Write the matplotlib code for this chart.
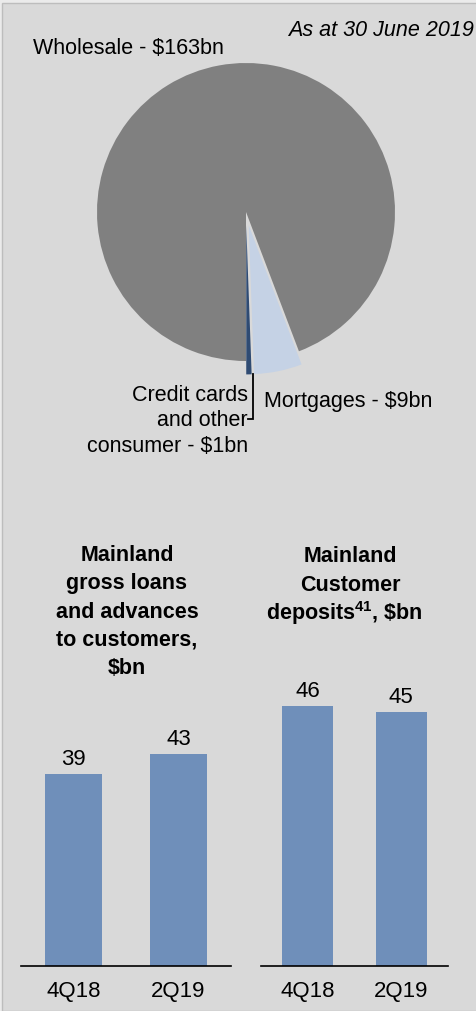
import matplotlib
matplotlib.use('Agg')
import matplotlib.pyplot as plt
from matplotlib.patches import Rectangle

plt.rcParams['font.family'] = ['Liberation Sans', 'DejaVu Sans']
plt.rcParams['mathtext.fontset'] = 'custom'
plt.rcParams['mathtext.rm'] = 'Liberation Sans'
plt.rcParams['mathtext.bf'] = 'Liberation Sans:bold'

# pie data ($bn, as at 30 June 2019)
pie_labels = ['Credit cards\nand other\nconsumer - $1bn', 'Mortgages - $9bn', 'Wholesale - $163bn']
pie_values = [1, 9, 163]
pie_colors = ['#2f4b73', '#c5d2e5', '#808080']
pie_explode = [0.09, 0.09, 0.0]

# bar data
quarters = ['4Q18', '2Q19']
loans = [39, 43]
deposits = [46, 45]
bar_color = '#6f8fba'

W, H = 477, 1011
BG = '#d9d9d9'
FS = 15.5


def fx(x):
    return x / W


def fy(y):
    return 1 - y / H


def box(x0, y0, x1, y1):
    # pixel box (top-left origin) -> figure fraction rect
    return [fx(x0), fy(y1), (x1 - x0) / W, (y1 - y0) / H]


fig = plt.figure(figsize=(W / 100, H / 100), dpi=100, facecolor='#ebebeb')
fig.patches.append(Rectangle((fx(2), 0), 1, fy(3), transform=fig.transFigure,
                             facecolor=BG, edgecolor='#bdbdbd', lw=1, zorder=-10))

# ---- pie ----
r_px = 149
ax = fig.add_axes(box(46, 12, 446, 412))
ax.set_facecolor('none')
wedges, _ = ax.pie(pie_values, colors=pie_colors, explode=pie_explode,
                   startangle=270, counterclock=True, radius=1,
                   wedgeprops=dict(linewidth=0))
lim = 200 / r_px
ax.set_xlim(-lim, lim)
ax.set_ylim(-lim, lim)
ax.set_aspect('equal')
ax.axis('off')

# leader line for the small slice
ax.plot([0.047, 0.047, 0.013], [-1.09, -1.39, -1.39], color='black', lw=1.3,
        clip_on=False, solid_joinstyle='miter')

fig.text(fx(474), fy(31), 'As at 30 June 2019', ha='right', va='center',
         fontsize=FS, style='italic')
fig.text(fx(33), fy(48), pie_labels[2], ha='left', va='center', fontsize=FS)
fig.text(fx(264), fy(402), pie_labels[1], ha='left', va='center', fontsize=FS)
fig.text(fx(248), fy(421), pie_labels[0], ha='right', va='center', fontsize=FS,
         multialignment='right', linespacing=1.26)

# ---- bars ----
base_y = 966
top_y = 680


def bar_panel(x0, x1, values, px_per_unit):
    bax = fig.add_axes(box(x0, top_y, x1, base_y))
    bax.set_facecolor('none')
    pos = list(range(len(values)))
    bars = bax.bar(pos, values, width=0.55, color=bar_color)
    bax.set_xlim(-0.5, len(values) - 0.5)
    bax.set_ylim(0, (base_y - top_y) / px_per_unit)
    for s in ['top', 'left', 'right']:
        bax.spines[s].set_visible(False)
    bax.spines['bottom'].set_linewidth(1.2)
    bax.spines['bottom'].set_color('black')
    bax.set_yticks([])
    bax.set_xticks(pos)
    bax.set_xticklabels(quarters, fontsize=16)
    bax.tick_params(axis='x', length=0, pad=11)
    for b, v in zip(bars, values):
        bax.annotate(str(v), (b.get_x() + b.get_width() / 2, v),
                     xytext=(0, 10.5), textcoords='offset points',
                     ha='center', va='center', fontsize=16)
    return bax


bar_panel(21, 231, loans, 4.93)
bar_panel(261, 448, deposits, 5.65)

fig.text(fx(127), fy(612), 'Mainland\ngross loans\nand advances\nto customers,\n$bn',
         ha='center', va='center', fontsize=FS, fontweight='bold', linespacing=1.44)
fig.text(fx(350), fy(571), 'Mainland\nCustomer',
         ha='center', va='center', fontsize=FS, fontweight='bold', linespacing=1.44)
fig.text(fx(344), fy(613), r'deposits$^{\mathbf{41}}$, \$bn',
         ha='center', va='center', fontsize=FS, fontweight='bold')

fig.savefig('out.png', dpi=100, facecolor=fig.get_facecolor())
